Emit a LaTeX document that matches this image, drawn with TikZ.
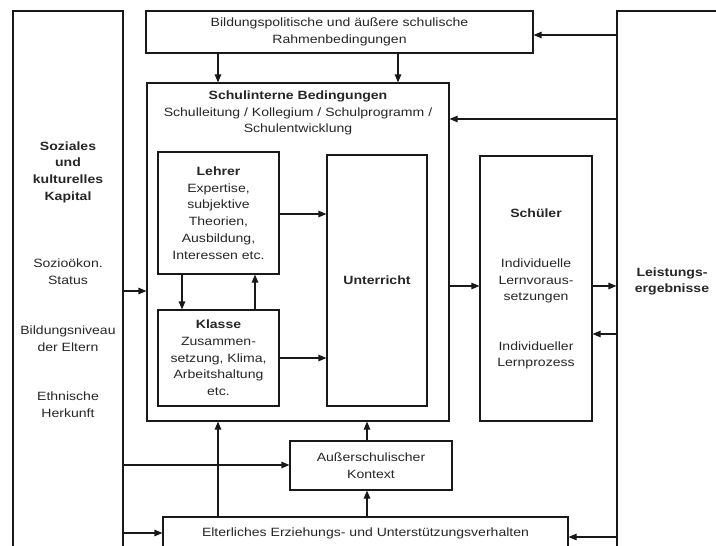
\documentclass[tikz,border=0pt]{standalone}
\usepackage{fontspec}
\setmainfont{Liberation Sans}[FakeStretch=1.17]
\usetikzlibrary{arrows.meta}
\begin{document}
\begin{tikzpicture}[x=1pt,y=-1pt,
  every node/.style={font=\fontsize{12}{16.7}\selectfont, text=black!85, align=center, inner sep=0pt},
  box/.style={draw=black!90, line width=1.1pt, inner sep=0pt},
  arr/.style={draw=black!90, line width=1.1pt, -{Triangle[length=8pt,width=6.5pt]}}]
\useasboundingbox (0,0) rectangle (716,546);
\clip (0,0) rectangle (716,546);
% boxes
\node[box, minimum width=110pt, minimum height=549pt] (soz) at (68,285.5) {};
\node[box, minimum width=387pt, minimum height=42pt] (top) at (339.5,32) {Bildungspolitische und äußere schulische\\Rahmenbedingungen};
\node[box, minimum width=113pt, minimum height=549pt] (leist) at (673.5,285.5) {};
\node[box, minimum width=302pt, minimum height=338pt] (schul) at (298,252) {};
\node[box, minimum width=121pt, minimum height=122pt] (lehrer) at (218.5,213) {\textbf{Lehrer}\\Expertise,\\subjektive\\Theorien,\\Ausbildung,\\Interessen etc.};
\node[box, minimum width=121pt, minimum height=96pt] (klasse) at (218.5,358) {\textbf{Klasse}\\Zusammen-\\setzung, Klima,\\Arbeitshaltung\\etc.};
\node[box, minimum width=100pt, minimum height=251pt] (unt) at (377,280.5) {\textbf{Unterricht}};
\node[box, minimum width=112pt, minimum height=265pt] (schueler) at (536,288.5) {};
\node[box, minimum width=162pt, minimum height=49pt] (auss) at (371,465.5) {Außerschulischer\\Kontext};
\node[box, minimum width=405pt, minimum height=43pt] (elt) at (365.5,538.5) {};
% texts
\node (schulT) at (298,113) {\textbf{Schulinterne Bedingungen}\\Schulleitung / Kollegium / Schulprogramm /\\Schulentwicklung};
\node (sozT) at (68,172) {\textbf{Soziales}\\\textbf{und}\\\textbf{kulturelles}\\\textbf{Kapital}};
\node (sozA) at (68,271.5) {Sozioökon.\\Status};
\node (sozB) at (68,338.5) {Bildungsniveau\\der Eltern};
\node (sozC) at (68,405) {Ethnische\\Herkunft};
\node (leistT) at (672,281.5) {\textbf{Leistungs-}\\\textbf{ergebnisse}};
\node (schuelerT) at (536,213) {\textbf{Schüler}};
\node (schuelerA) at (536,281) {Individuelle\\Lernvoraus-\\setzungen};
\node (schuelerB) at (536,355.5) {Individueller\\Lernprozess};
\node (eltT) at (365.5,533) {Elterliches Erziehungs- und Unterstützungsverhalten};
% connectors
\draw[arr] (top.south -| 218,0) -- (schul.north -| 218,0);
\draw[arr] (top.south -| 398,0) -- (schul.north -| 398,0);
\draw[arr] (leist.west |- 0,35) -- (top.east |- 0,35);
\draw[arr] (leist.west |- 0,119) -- (schul.east |- 0,119);
\draw[arr] (lehrer.south -| 182,0) -- (klasse.north -| 182,0);
\draw[arr] (klasse.north -| 255,0) -- (lehrer.south -| 255,0);
\draw[arr] (lehrer.east |- 0,214) -- (unt.west |- 0,214);
\draw[arr] (klasse.east |- 0,358) -- (unt.west |- 0,358);
\draw[arr] (schul.east |- 0,286) -- (schueler.west |- 0,286);
\draw[arr] (schueler.east |- 0,286) -- (leist.west |- 0,286);
\draw[arr] (leist.west |- 0,334) -- (schueler.east |- 0,334);
\draw[arr] (soz.east |- 0,291) -- (schul.west |- 0,291);
\draw[arr] (soz.east |- 0,465) -- (auss.west |- 0,465);
\draw[arr] (soz.east |- 0,533) -- (elt.west |- 0,533);
\draw[arr] (leist.west |- 0,537) -- (elt.east |- 0,537);
\draw[arr] (elt.north -| 218,0) -- (schul.south -| 218,0);
\draw[arr] (elt.north -| 367,0) -- (auss.south -| 367,0);
\draw[arr] (auss.north -| 367,0) -- (schul.south -| 367,0);
\end{tikzpicture}
\end{document}
